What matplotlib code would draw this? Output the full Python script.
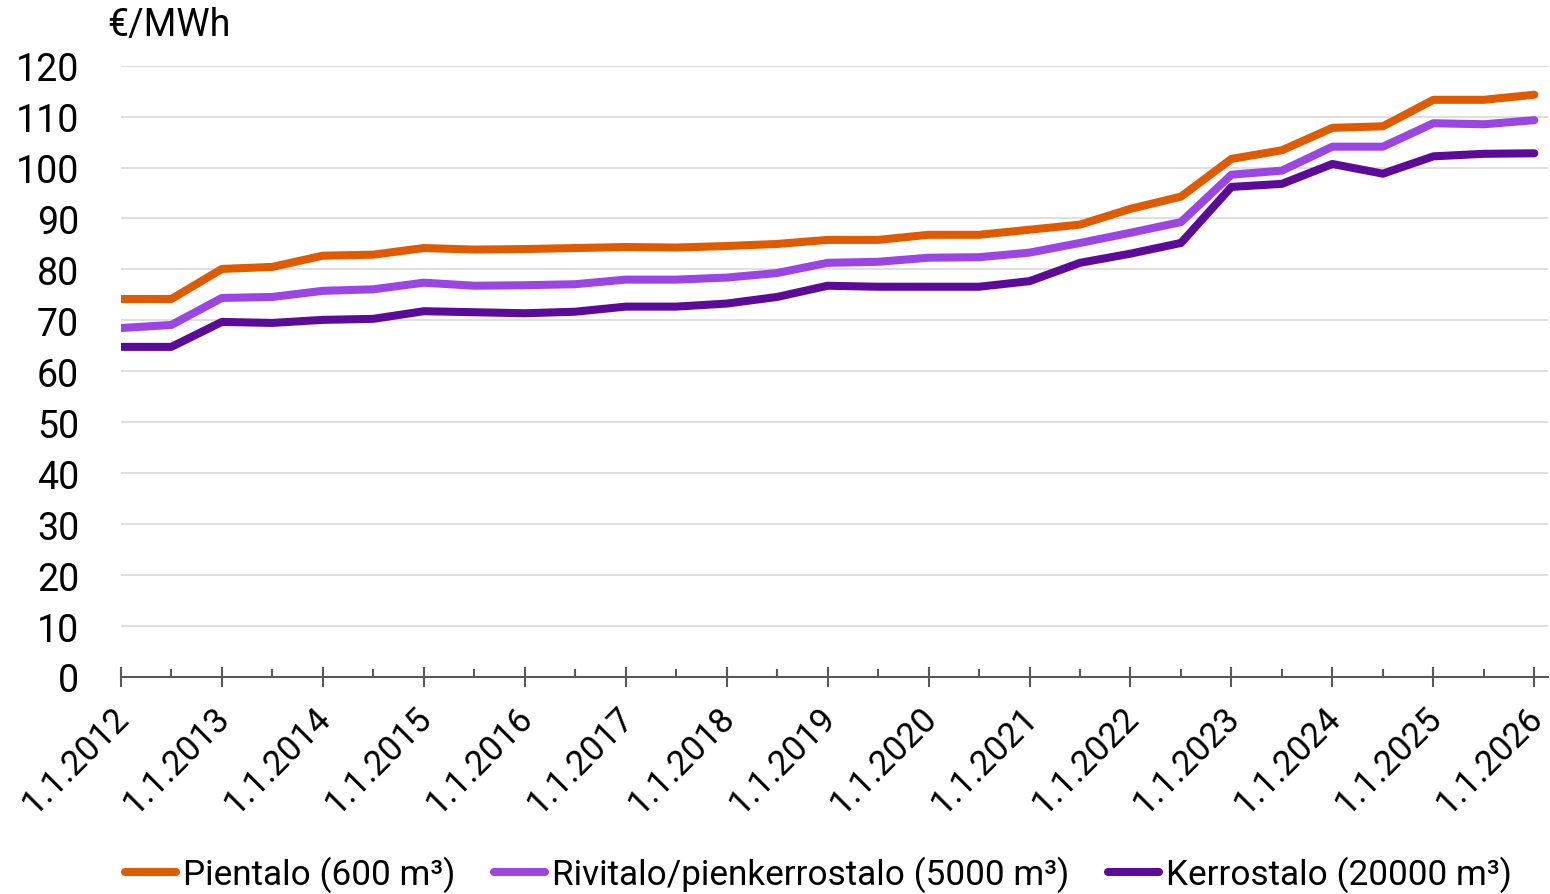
import numpy as np
import matplotlib.pyplot as plt
import matplotlib.transforms as mtransforms
from matplotlib.ticker import MultipleLocator

plt.rcParams['font.family'] = ['Roboto', 'DejaVu Sans']

# half-year points, 1.1.2012 ... 1.1.2026
years = np.arange(2012, 2026.01, 0.5)

pientalo = [74.2, 74.2, 80.1, 80.5, 82.7, 82.9, 84.2, 83.9, 84.0, 84.2,
            84.4, 84.3, 84.6, 85.0, 85.8, 85.8, 86.8, 86.8, 87.8, 88.8,
            91.9, 94.3, 101.7, 103.4, 107.8, 108.1, 113.3, 113.3, 114.3]
rivitalo = [68.5, 69.1, 74.4, 74.6, 75.8, 76.1, 77.4, 76.8, 76.9, 77.1,
            78.0, 78.0, 78.4, 79.3, 81.3, 81.5, 82.3, 82.4, 83.3, 85.2,
            87.2, 89.3, 98.6, 99.4, 104.1, 104.1, 108.7, 108.5, 109.3]
kerrostalo = [64.8, 64.8, 69.7, 69.5, 70.1, 70.3, 71.8, 71.6, 71.4, 71.7,
              72.7, 72.7, 73.3, 74.6, 76.8, 76.6, 76.6, 76.6, 77.7, 81.3,
              83.1, 85.2, 96.2, 96.8, 100.7, 98.8, 102.2, 102.7, 102.8]

labels = ['Pientalo (600 m³)', 'Rivitalo/pienkerrostalo (5000 m³)', 'Kerrostalo (20000 m³)']
colors = ['#E05A00', '#9B45E4', '#5B0A99']
year_labels = ['1.1.%d' % y for y in range(2012, 2027)]

fig = plt.figure(figsize=(15.5, 8.95), dpi=100)
ax = fig.add_axes([0.078, 0.2425, 0.921, 0.683])

for data, lab, col in zip([pientalo, rivitalo, kerrostalo], labels, colors):
    ax.plot(years, data, color=col, lw=5.8, label=lab, solid_capstyle='round', zorder=3)

ax.set_xlim(2012, 2026.14)
ax.set_ylim(0, 120)
ax.yaxis.set_major_locator(MultipleLocator(10))
ax.grid(axis='y', color='#D9D9D9', lw=1.2)
ax.set_axisbelow(True)

for s in ['top', 'right', 'left']:
    ax.spines[s].set_visible(False)
ax.spines['bottom'].set_color('#595959')
ax.spines['bottom'].set_linewidth(1.5)

ax.tick_params(axis='y', length=0, pad=30, labelsize=27)
ax.set_xticks(range(2012, 2027))
ax.set_xticklabels(year_labels, rotation=45, ha='right', va='top', rotation_mode='anchor')
ax.set_xticks(np.arange(2012.5, 2026, 1.0), minor=True)
ax.tick_params(axis='x', which='major', direction='inout', length=14.4, width=1.5,
               color='#595959', labelsize=25, pad=10)
ax.tick_params(axis='x', which='minor', direction='in', length=5.8, width=1.5, color='#595959')
# nudge x labels slightly left so the last one stays inside
offset = mtransforms.ScaledTranslation(-9 / 100, 0, fig.dpi_scale_trans)
for t in ax.get_xticklabels():
    t.set_transform(t.get_transform() + offset)

fig.text(107 / 1550, 1 - 25 / 895, '€/MWh', fontsize=27, va='center', ha='left')

fig.legend(loc='center', bbox_to_anchor=(0.528, 1 - 875 / 895), ncol=3, frameon=False,
           fontsize=25.3, handlelength=1.45, handletextpad=0.2, columnspacing=1.1,
           borderaxespad=0)

plt.savefig('out.png', dpi=100)
